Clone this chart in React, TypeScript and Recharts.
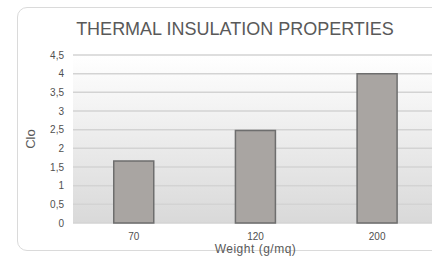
import React from 'react';
import { BarChart, Bar, XAxis, YAxis, CartesianGrid } from 'recharts';

const categories = ['70', '120', '200'];
const cloValues = [1.66, 2.48, 4.0];
const yTicks = [0, 0.5, 1, 1.5, 2, 2.5, 3, 3.5, 4, 4.5];

const data = categories.map((c, i) => ({ weight: c, clo: cloValues[i] }));

const fmt = (v: number) => String(v).replace('.', ',');

export default function App() {
  return (
    <div
      style={{
        position: 'fixed',
        left: 0,
        top: 0,
        width: 432,
        height: 257,
        overflow: 'hidden',
        background: '#ffffff',
        fontFamily: '"Liberation Sans", Arial, sans-serif',
      }}
    >
      <div
        style={{
          position: 'absolute',
          left: 17,
          top: 7,
          width: 500,
          height: 244,
          border: '1px solid #dadada',
          borderRadius: 10,
          boxSizing: 'border-box',
        }}
      />
      <div
        style={{
          position: 'absolute',
          left: 0,
          top: 18,
          width: 470,
          textAlign: 'center',
          fontSize: 18,
          color: '#595959',
          lineHeight: '22px',
        }}
      >
        THERMAL INSULATION PROPERTIES
      </div>
      <div style={{ position: 'absolute', left: 0, top: 0 }}>
        <BarChart
          width={480}
          height={257}
          data={data}
          margin={{ top: 55, right: 42, bottom: 0, left: 0 }}
          barCategoryGap="33.5%"
        >
          <defs>
            <linearGradient id="plotBg" x1="0" y1="0" x2="0" y2="1">
              <stop offset="0%" stopColor="#ffffff" />
              <stop offset="100%" stopColor="#d9d9d9" />
            </linearGradient>
          </defs>
          <CartesianGrid
            vertical={false}
            stroke="#d3d3d3"
            strokeWidth={1.5}
            fill="url(#plotBg)"
            fillOpacity={1}
          />
          <XAxis
            dataKey="weight"
            height={34}
            axisLine={false}
            tickLine={false}
            tickMargin={4}
            tick={{ fontSize: 10, fill: '#505050' }}
            label={{
              value: 'Weight (g/mq)',
              position: 'insideBottom',
              offset: 4,
              fontSize: 12,
              fill: '#595959',
              letterSpacing: 0.5,
            }}
          />
          <YAxis
            width={73}
            domain={[0, 4.5]}
            ticks={yTicks}
            interval={0}
            axisLine={false}
            tickLine={false}
            tickMargin={3}
            tickFormatter={fmt}
            tick={{ fontSize: 10, fill: '#505050' }}
            label={{
              value: 'Clo',
              angle: -90,
              position: 'insideLeft',
              offset: 30,
              fontSize: 13,
              fill: '#595959',
              textAnchor: 'middle',
            }}
          />
          <Bar
            dataKey="clo"
            fill="#a9a5a2"
            stroke="#6e6e6e"
            strokeWidth={1.5}
            isAnimationActive={false}
          />
        </BarChart>
      </div>
    </div>
  );
}
